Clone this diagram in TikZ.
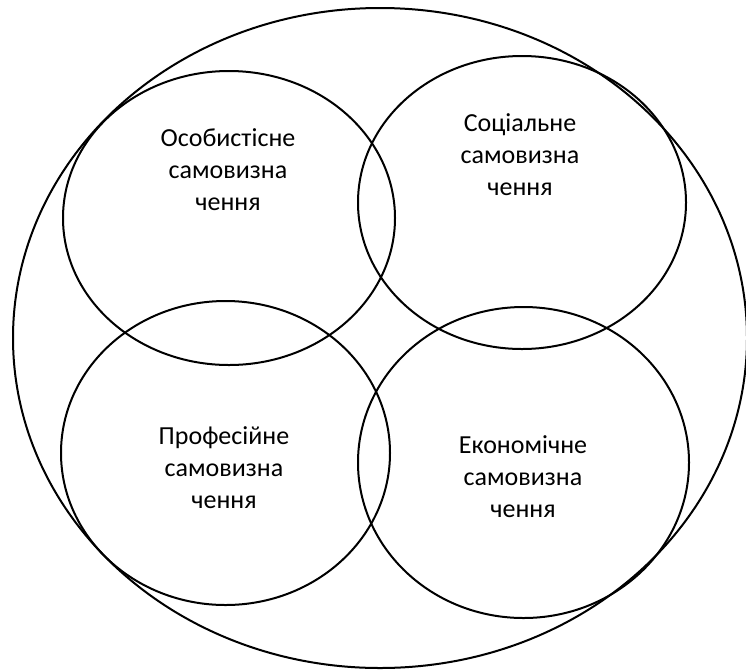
\documentclass[tikz,border=0pt]{standalone}
\usepackage{fontspec}
\setmainfont{Carlito}
\begin{document}
\begin{tikzpicture}[x=1pt,y=-1pt,
  ring/.style={draw=black,line width=2pt},
  lbl/.style={align=center,font=\fontsize{26}{32}\selectfont,inner sep=0pt}]
\useasboundingbox (0,0) rectangle (746,670);
\draw[ring] (380,338) ellipse [x radius=367,y radius=330];
\draw[ring] (229,218) ellipse [x radius=166,y radius=147];
\draw[ring] (522,202.5) ellipse [x radius=164,y radius=146.5];
\draw[ring] (225.5,453) ellipse [x radius=164.5,y radius=152];
\draw[ring] (523.5,462.5) ellipse [x radius=165.5,y radius=155.5];
\node[lbl] (osob) at (228,170) {Особистісне\\самовизна\\чення};
\node[lbl] (soc) at (520,155) {Соціальне\\самовизна\\чення};
\node[lbl] (prof) at (224,468) {Професійне\\самовизна\\чення};
\node[lbl] (econ) at (523,477) {Економічне\\самовизна\\чення};
\end{tikzpicture}
\end{document}
